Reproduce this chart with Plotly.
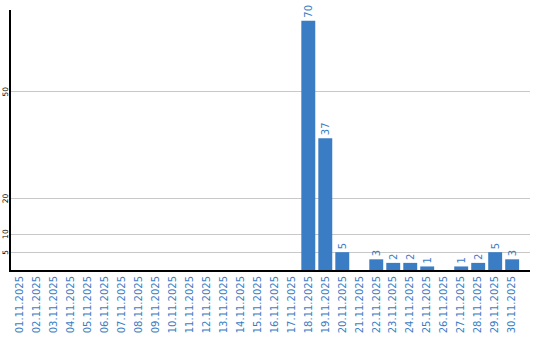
import plotly.graph_objects as go

dates = [f"{d:02d}.11.2025" for d in range(1, 31)]
values = [0]*17 + [70, 37, 5, 0, 3, 2, 2, 1, 0, 1, 2, 5, 3]
y_ticks = [5, 10, 20, 50]

blue = "#3b7dc4"
labels = [str(v) if v > 0 else "" for v in values]

fig = go.Figure(go.Bar(
    x=list(range(len(dates))), y=values, text=labels, textposition="outside",
    textangle=-90, cliponaxis=False, width=0.82,
    marker=dict(color=blue, line=dict(width=0)),
    textfont=dict(color=blue, size=10, family="DejaVu Sans"),
))
fig.update_layout(
    width=540, height=340, margin=dict(l=11, r=10, t=10, b=70),
    plot_bgcolor="white", paper_bgcolor="white", showlegend=False,
    font=dict(family="DejaVu Sans"),
)
fig.update_xaxes(
    tickmode="array", tickvals=list(range(len(dates))), ticktext=dates,
    range=[-0.5, 30.05], tickangle=-90, tickfont=dict(color=blue, size=10),
    showline=True, linecolor="black", linewidth=2, showgrid=False,
    ticks="", automargin=False, zeroline=False,
)
fig.update_yaxes(
    tickmode="array", tickvals=y_ticks, range=[0, 73.0],
    showticklabels=False, showline=True, linecolor="black",
    linewidth=2, gridcolor="#c8c8c8", gridwidth=1, zeroline=False,
    ticks="", automargin=False,
)
for t in y_ticks:
    fig.add_annotation(
        x=0, xref="paper", y=t, yref="y", text=str(t), showarrow=False,
        textangle=-90, xanchor="right", yanchor="middle", xshift=0,
        borderpad=0, font=dict(color="black", size=7.5, family="DejaVu Sans"),
    )
fig.write_html("out.html")
